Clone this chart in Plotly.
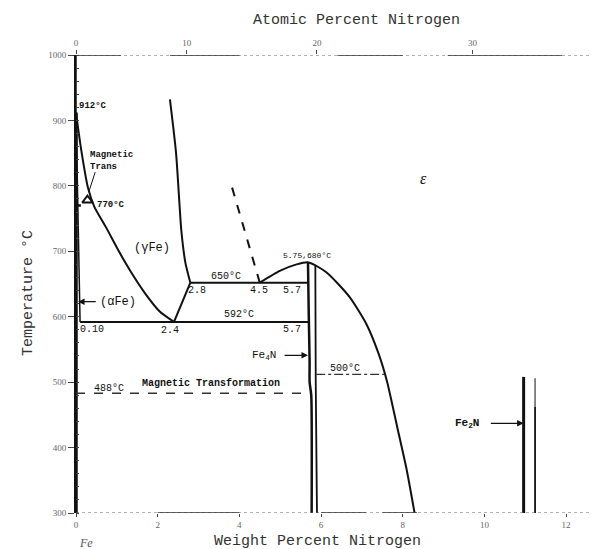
import plotly.graph_objects as go

# ---------------- data (wt% N, temperature degC) ----------------
# gamma / (alpha+gamma) boundary
a3_wt = [0.0, 0.12, 0.29, 0.45, 0.75, 1.05, 1.35, 1.70, 2.05, 2.40]
a3_T = [912, 858, 798, 768, 735, 700, 668, 635, 608, 592]
# alpha / (alpha+gamma) boundary
alpha_wt = [0.0, 0.10]
alpha_T = [912, 592]
# gamma / (gamma+gamma') lower segment
g_low_wt = [2.40, 2.80]
g_low_T = [592, 652]
# gamma / (gamma+eps) boundary
g_eps_wt = [2.30, 2.45, 2.58, 2.68, 2.80]
g_eps_T = [932, 850, 731, 682, 652]
# dashed metastable line up from 4.5
dash_wt = [4.50, 3.80]
dash_T = [652, 802]
# eps dome
eps_wt = [4.50, 4.99, 5.40, 5.70, 6.13, 6.70, 7.10, 7.40, 7.62, 7.87, 8.10, 8.29]
eps_T = [652, 670, 680, 683, 668, 630, 590, 545, 500, 430, 365, 300]
# gamma' (Fe4N) boundaries
gp_left_wt = [5.68, 5.70, 5.72, 5.72, 5.76, 5.77]
gp_left_T = [683, 600, 530, 500, 480, 300]
gp_right_wt = [5.86, 5.87, 5.90]
gp_right_T = [678, 500, 300]
# Fe2N boundaries
fe2n_left_wt = [10.96, 10.96]
fe2n_left_T = [508, 300]
fe2n_right_top = ([11.24, 11.24], [506, 462])
fe2n_right_low = ([11.24, 11.24], [462, 300])
# isotherms
eutectoid_650 = ([2.80, 5.68], [652, 652])
eutectoid_592 = ([0.10, 5.70], [592, 592])
mag_488 = ([0.0, 5.72], [483, 483])
line_500 = ([5.88, 7.55], [512, 512])

y_ticks = [300, 400, 500, 600, 700, 800, 900, 1000]
x_ticks = [0, 2, 4, 6, 8, 10, 12]
at_ticks = [0, 10, 20, 30]


def at_to_wt(a):
    return 100 * a * 14.007 / (a * 14.007 + (100 - a) * 55.847)


fig = go.Figure()


def add_line(xs, ys, width=2, dash="solid", color="#111"):
    fig.add_trace(go.Scatter(x=xs, y=ys, mode="lines", line=dict(color=color, width=width, dash=dash,
                                                                 shape="spline", smoothing=0.6),
                             hoverinfo="skip", showlegend=False))


add_line([0, 0], [300, 912], width=3.5)
add_line([0, 0], [912, 1000], width=1.5)
add_line(a3_wt, a3_T, 2)
add_line(alpha_wt, alpha_T, 1.5)
add_line(g_low_wt, g_low_T, 2)
add_line(g_eps_wt, g_eps_T, 2)
add_line(dash_wt, dash_T, 2, dash="dash")
add_line(eps_wt, eps_T, 2)
add_line(gp_left_wt, gp_left_T, 2.5)
add_line(gp_right_wt, gp_right_T, 1.8)
add_line(fe2n_left_wt, fe2n_left_T, 3)
add_line(*fe2n_right_top, 1)
add_line(*fe2n_right_low, 1.8)
add_line(*eutectoid_650, 2)
add_line(*eutectoid_592, 2)
add_line(*mag_488, 1.5, dash="dash", color="#333")
add_line(*line_500, 1.3, dash="dashdot", color="#333")
# magnetic transition 770 short line and pointer
add_line([0.0, 0.12], [770, 770], 2.5)
add_line([0.47, 0.32], [821, 792], 1)
fig.add_trace(go.Scatter(x=[0.28], y=[778], mode="markers",
                         marker=dict(symbol="triangle-up-open", size=9, color="#111", line=dict(width=2)),
                         hoverinfo="skip", showlegend=False))

# axis-like dotted lines top and bottom
for yv in (300, 1000):
    fig.add_shape(type="line", x0=0, x1=12.83, y0=yv, y1=yv, xref="x", yref="y",
                  line=dict(color="#666", width=1.2, dash="dot"))
bottom_solid = [(2.0, 4.0), (6.0, 7.1), (7.5, 8.35)]
top_solid = [(0.0, 1.1), (2.3, 4.0), (6.4, 8.0), (9.1, 11.9)]
for a, b in bottom_solid:
    fig.add_shape(type="line", x0=a, x1=b, y0=300, y1=300, xref="x", yref="y",
                  line=dict(color="#333", width=1.3))
for a, b in top_solid:
    fig.add_shape(type="line", x0=a, x1=b, y0=1000, y1=1000, xref="x", yref="y",
                  line=dict(color="#333", width=1.3))

lab = dict(family="Liberation Mono, monospace", size=10, color="#111")
labs = dict(family="Liberation Mono, monospace", size=9, color="#111", weight="bold")
labb = dict(family="Liberation Mono, monospace", size=10, color="#111", weight="bold")


def txt(x, y, s, font=lab, xanchor="center"):
    fig.add_annotation(x=x, y=y, text=s, showarrow=False, font=font, xanchor=xanchor, yanchor="middle",
                       align="left")


txt(0.03, 922, "912°C", labs, "left")
txt(0.29, 838, "Magnetic<br>Trans", labs, "left")
txt(0.47, 770, "770°C", labs, "left")
txt(1.86, 705, "(γFe)", dict(family="Liberation Mono", size=12, color="#111"))
txt(0.54, 622, "(αFe)", dict(family="Liberation Mono", size=12, color="#111"), "left")
txt(3.67, 661, "650°C")
txt(2.96, 640, "2.8")
txt(4.48, 640, "4.5")
txt(5.29, 640, "5.7")
txt(5.66, 693, "5.75,680°C", dict(family="Liberation Mono", size=8, color="#111"))
txt(3.99, 603, "592°C")
txt(0.39, 580, "0.10")
txt(2.30, 579, "2.4")
txt(5.29, 581, "5.7")
txt(4.60, 541, "Fe<sub>4</sub>N", dict(family="Liberation Mono", size=11, color="#111"))
txt(6.59, 521, "500°C")
txt(0.81, 490, "488°C")
txt(3.31, 498, "Magnetic Transformation", labb)
txt(9.58, 437, "Fe<sub>2</sub>N", dict(family="Liberation Mono", size=11, color="#111", weight="bold"))
txt(8.5, 812, "<i>ε</i>", dict(family="Liberation Serif", size=16, color="#111"))

# arrows
for (xh, yh, xt) in [(0.05, 623, 0.52), (5.68, 541, 5.07), (10.96, 437, 10.12)]:
    fig.add_annotation(x=xh, y=yh, ax=xt, ay=yh, xref="x", yref="y", axref="x", ayref="y",
                       text="", showarrow=True, arrowhead=2, arrowsize=1, arrowwidth=1.3,
                       arrowcolor="#111")

# Axis titles
fig.add_annotation(x=0.46, y=-0.062, xref="paper", yref="paper", text="Weight Percent Nitrogen",
                   showarrow=False, font=dict(family="Liberation Mono", size=15, color="#333"),
                   yanchor="middle")
fig.add_annotation(x=0.535, y=1.0, xref="paper", yref="paper", yshift=35, text="Atomic Percent Nitrogen",
                   showarrow=False, font=dict(family="Liberation Mono", size=15, color="#333"),
                   yanchor="middle")
fig.add_annotation(x=-0.112, y=0.48, xref="paper", yref="paper", text="Temperature °C", textangle=-90,
                   showarrow=False, font=dict(family="Liberation Mono", size=15, color="#333"))
fig.add_annotation(x=0.02, y=-0.066, xref="x", yref="paper", text="<i>Fe</i>", showarrow=False,
                   font=dict(family="Liberation Serif", size=12, color="#555"), yanchor="middle",
                   xanchor="left")

tickfont = dict(family="Liberation Serif", size=9, color="#666")
# the page body adds an 8px offset, so the figure is sized 8px smaller
fig.update_layout(
    width=592, height=541,
    margin=dict(l=68, r=0, t=47, b=36),
    paper_bgcolor="white", plot_bgcolor="white",
    xaxis=dict(range=[0, 12.83], tickvals=x_ticks, ticktext=[str(v) for v in x_ticks], ticks="outside",
               ticklen=3, tickcolor="#444", showgrid=False, zeroline=False, showline=False,
               tickfont=tickfont, automargin=False),
    xaxis2=dict(range=[0, 12.83], overlaying="x", side="top", anchor="y",
                tickvals=[at_to_wt(a) for a in at_ticks], ticktext=[str(a) for a in at_ticks],
                ticks="outside", ticklen=4, tickcolor="#444", showgrid=False, zeroline=False,
                showline=False, tickfont=tickfont, automargin=False),
    yaxis=dict(range=[300, 1000], tickvals=y_ticks, ticktext=[str(v) for v in y_ticks], ticks="outside",
               ticklen=6, tickcolor="#444", showgrid=False, zeroline=False, showline=True,
               linecolor="#111", linewidth=2, tickfont=tickfont, automargin=False,
               minor=dict(ticks="inside", dtick=20, ticklen=3, tickcolor="#444")),
    showlegend=False,
)
# dummy trace to activate xaxis2
fig.add_trace(go.Scatter(x=[0], y=[300], xaxis="x2", mode="markers", marker=dict(opacity=0),
                         hoverinfo="skip", showlegend=False))

fig.write_html("out.html")
